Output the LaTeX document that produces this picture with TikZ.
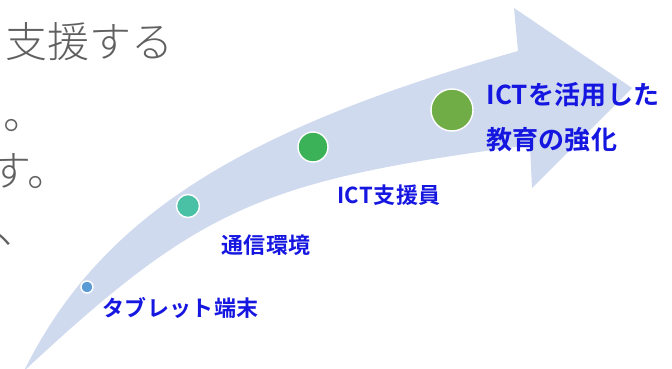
\documentclass[tikz,border=0pt]{standalone}
\usepackage{fontspec}
\newfontfamily\jpfont{Noto Sans CJK JP}[BoldFont=* Bold]
\newfontfamily\jplight{Noto Sans CJK JP}[UprightFont=* Light]
\definecolor{bandblue}{RGB}{207,218,238}
\definecolor{textgray}{RGB}{96,96,96}
\definecolor{labelblue}{RGB}{22,22,225}
\definecolor{dotblue}{RGB}{91,155,213}
\definecolor{dotteal}{RGB}{74,193,165}
\definecolor{dotgreen}{RGB}{60,178,88}
\definecolor{dotolive}{RGB}{112,173,71}

\tikzset{
  dot/.style={circle, draw=white, line width=1.4pt, inner sep=0pt},
  lefttext/.style={anchor=base west, inner sep=0pt, text=textgray,
    font=\jplight\fontsize{42}{42}\selectfont},
  steplabel/.style={anchor=base west, inner sep=0pt, text=labelblue,
    font=\jpfont\bfseries\fontsize{22}{22}\selectfont\addfontfeatures{LetterSpace=2}},
  goallabel/.style={anchor=base west, inner sep=0pt, text=labelblue,
    font=\jpfont\bfseries\fontsize{26}{26}\selectfont\addfontfeatures{LetterSpace=1}}
}

\begin{document}
\begin{tikzpicture}[x=1pt,y=-1pt]
\useasboundingbox (0,0) rectangle (672,369);

    % cut off slide text on the left
    \node [lefttext] (line1) at (5,58) {支援する};
    \node [lefttext] (line2) at (3,129) {。};
    \node [lefttext] (line3) at (-11,186) {す。};
    \node [lefttext] (line4) at (-4,243) {、};

    % the curved arrow
    \fill [bandblue] (24,371) .. controls (200,207) and (262,180) .. (530,145)
        -- (532,188) -- (632,88) -- (514,8) -- (518,51)
        .. controls (247,128) and (102,213) .. (24,371);

    % steps along the arrow
    \node [dot, fill=dotblue, minimum size=12pt] (tablet) at (87,287) {};
    \node [dot, fill=dotteal, minimum size=23pt] (network) at (188,206) {};
    \node [dot, fill=dotgreen, minimum size=30pt] (staff) at (313,147) {};
    \node [dot, fill=dotolive, minimum size=42pt] (goal) at (452,110) {};

    \node [steplabel] (tabletlabel) at (102,316) {タブレット端末};
    \node [steplabel] (networklabel) at (221,253) {通信環境};
    \node [steplabel] (stafflabel) at (337,203) {ICT支援員};
    \node [goallabel] (goallabel1) at (486,104) {ICTを活用した};
    \node [goallabel] (goallabel2) at (486,149) {教育の強化};

\end{tikzpicture}
\end{document}
